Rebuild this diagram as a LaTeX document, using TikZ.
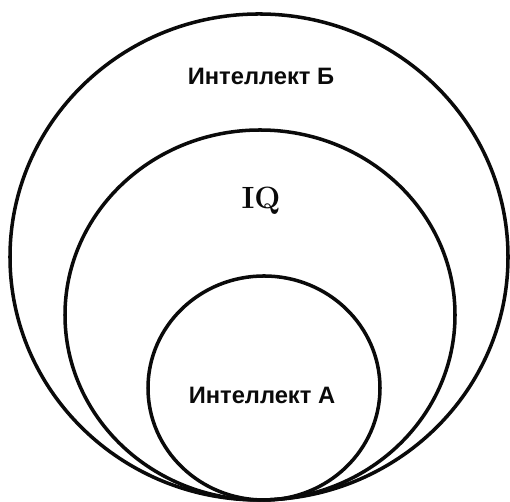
\documentclass[tikz,border=0pt]{standalone}
\usepackage{fontspec}
\newfontfamily\labelfont{Liberation Sans}
\usepackage{tikz}
\definecolor{ink}{HTML}{0A0A0A}

\begin{document}
\begin{tikzpicture}[x=0.02cm, y=0.02cm, ring/.style={draw=ink, line width=2pt}, every node/.style={text=ink}]
      \useasboundingbox (0,0) rectangle (510,502);
      \draw[ring] (259,245) ellipse [x radius=249, y radius=243];
      \draw[ring] (260,187) ellipse [x radius=195, y radius=185];
      \draw[ring] (264,114) ellipse [x radius=116, y radius=112];
      \node[font=\labelfont\bfseries\fontsize{13.5}{16}\selectfont] (intB) at (261,426) {Интеллект Б};
      \node[font=\bfseries\fontsize{17.5}{20}\selectfont] (iq) at (261,301) {IQ};
      \node[font=\labelfont\bfseries\fontsize{13.5}{16}\selectfont] (intA) at (262,107) {Интеллект А};
    \end{tikzpicture}
\end{document}
